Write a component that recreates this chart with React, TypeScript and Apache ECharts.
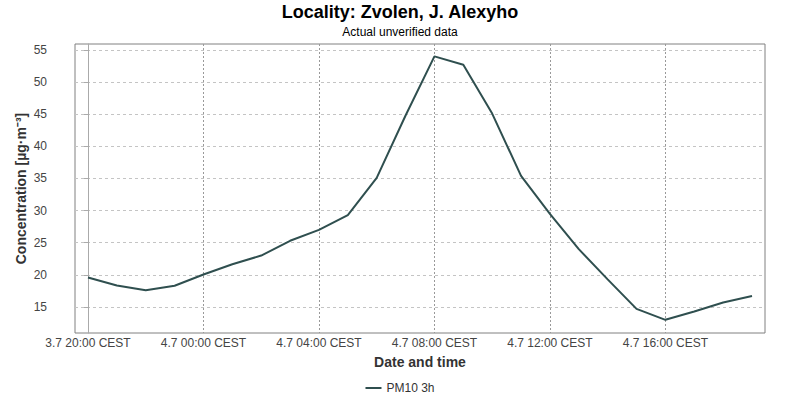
import React, { useEffect, useRef } from "react";
import * as echarts from "echarts";

const hours: number[] = [0,1,2,3,4,5,6,7,8,9,10,11,12,13,14,15,16,17,18,19,20,21,22,23];
const pm10: number[] = [19.6, 18.35, 17.6, 18.3, 20.05, 21.65, 23.0, 25.3, 27.0, 29.3, 35.1, 44.8, 54.0, 52.7, 45.1, 35.4, 29.5, 24.0, 19.3, 14.7, 13.0, 14.3, 15.7, 16.7];
const xTickHours: number[] = [0, 4, 8, 12, 16, 20];
const xTickLabels: string[] = [
  "3.7 20:00 CEST",
  "4.7 00:00 CEST",
  "4.7 04:00 CEST",
  "4.7 08:00 CEST",
  "4.7 12:00 CEST",
  "4.7 16:00 CEST",
];
const yTicks: number[] = [15, 20, 25, 30, 35, 40, 45, 50, 55];

const FONT = "Liberation Sans, Arial, sans-serif";

export default function App() {
  const ref = useRef<HTMLDivElement>(null);
  useEffect(() => {
    if (!ref.current) return;
    const chart = echarts.init(ref.current, null, { renderer: "svg" });
    chart.setOption({
      animation: false,
      backgroundColor: "#ffffff",
      textStyle: { fontFamily: FONT },
      title: [
        {
          text: "Locality: Zvolen, J. Alexyho",
          left: "center",
          top: 2,
          padding: 0,
          textStyle: { fontSize: 18, fontWeight: "bold", color: "#000", fontFamily: FONT, lineHeight: 20 },
        },
        {
          text: "Actual unverified data",
          left: "center",
          top: 25,
          padding: 0,
          textStyle: { fontSize: 12, fontWeight: "normal", color: "#000", fontFamily: FONT, lineHeight: 14 },
        },
      ],
      legend: {
        bottom: 1,
        left: "center",
        icon: "rect",
        itemWidth: 16,
        itemHeight: 2,
        itemGap: 10,
        textStyle: { fontSize: 12, color: "#333", fontFamily: FONT },
        data: ["PM10 3h"],
      },
      grid: {
        left: 75,
        right: 35,
        top: 44,
        bottom: 67,
        show: true,
        borderColor: "#808080",
        borderWidth: 1,
        backgroundColor: "#ffffff",
      },
      xAxis: {
        type: "value",
        min: -0.45,
        max: 23.45,
        name: "Date and time",
        nameLocation: "middle",
        nameGap: 22,
        nameMoveOverlap: false,
        nameTextStyle: { fontSize: 14, fontWeight: "bold", color: "#333", fontFamily: FONT },
        axisLine: { show: false },
        axisTick: { show: false, customValues: xTickHours },
        axisLabel: {
          customValues: xTickHours,
          fontSize: 12,
          color: "#444",
          margin: 4,
          fontFamily: FONT,
          formatter: (v: number) => {
            const i = xTickHours.indexOf(Math.round(v));
            return i >= 0 ? xTickLabels[i] : "";
          },
        },
        splitLine: {
          show: true,
          lineStyle: { color: "#999", type: [2, 2], width: 1 },
        },
      },
      yAxis: {
        type: "value",
        min: 10.95,
        max: 55.93,
        offset: 22,
        name: "Concentration [µg·m⁻³]",
        nameLocation: "middle",
        nameGap: 25,
        nameMoveOverlap: false,
        nameTextStyle: { fontSize: 14, fontWeight: "bold", color: "#333", fontFamily: FONT },
        axisLine: { show: true, lineStyle: { color: "#aaa" } },
        axisTick: { show: true, length: 4, customValues: yTicks, lineStyle: { color: "#aaa" } },
        axisLabel: {
          customValues: yTicks,
          fontSize: 12,
          color: "#444",
          margin: 6,
          fontFamily: FONT,
        },
        splitLine: {
          show: true,
          lineStyle: { color: "#c4c4c4", type: [3, 3], width: 1 },
        },
      },
      series: [
        {
          name: "PM10 3h",
          type: "line",
          data: hours.map((h, i) => [h, pm10[i]]),
          showSymbol: false,
          symbol: "none",
          lineStyle: { color: "#2f4f4f", width: 2 },
          itemStyle: { color: "#2f4f4f" },
        },
      ],
    });
    return () => chart.dispose();
  }, []);
  return <div ref={ref} style={{ position: "absolute", left: 0, top: 0, width: 800, height: 400 }} />;
}
